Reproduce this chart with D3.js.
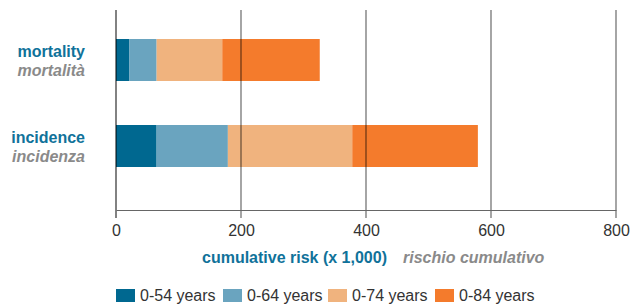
<!DOCTYPE html>
<html><head><meta charset="utf-8">
<script src="https://cdn.jsdelivr.net/npm/d3@7"></script>
<style>body{margin:0;background:#fff}svg{display:block;font-family:"Liberation Sans",Arial,sans-serif}</style>
</head><body>
<svg id="c" width="636" height="307"></svg>
<script>
const categories = ["mortality", "incidence"];
const categoriesIt = ["mortalità", "incidenza"];
const series = ["0-54 years", "0-64 years", "0-74 years", "0-84 years"];
const mortality = [21, 65, 170, 326];
const incidence = [65, 179, 378, 579];
const ticks = [0, 200, 400, 600, 800];
const colors = ["#006890", "#6aa4bf", "#f0b37e", "#f47b2c"];

const values = {mortality, incidence};
const svg = d3.select("#c");
const x = d3.scaleLinear().domain([0, 800]).range([116, 616]);
const y = d3.scalePoint().domain(categories).range([60, 146]);
const barH = 42;

categories.forEach(cat => {
  const vals = values[cat];
  const g = svg.append("g");
  vals.forEach((v, i) => {
    const start = i === 0 ? 0 : vals[i - 1];
    g.append("rect")
      .attr("x", x(start)).attr("y", y(cat) - barH / 2)
      .attr("width", x(v) - x(start)).attr("height", barH)
      .attr("fill", colors[i]);
  });
});

// grid lines
svg.append("g").selectAll("line").data(ticks).join("line")
  .attr("x1", d => x(d)).attr("x2", d => x(d))
  .attr("y1", 10).attr("y2", 218)
  .attr("stroke", d => d === 0 ? "rgba(0,0,0,0.7)" : "rgba(0,0,0,0.5)")
  .attr("stroke-width", 1.4);

// axis
const axis = d3.axisBottom(x).tickValues(ticks).tickSize(0).tickPadding(0).tickFormat(d3.format("d"));
const ax = svg.append("g").attr("transform", "translate(0,210)").call(axis);
ax.select(".domain").attr("stroke", "#666").attr("stroke-width", 1.2);
ax.selectAll("text").attr("font-size", 16).attr("fill", "#333").attr("dy", 0).attr("y", 26)
  .attr("font-family", "'Liberation Sans',Arial,sans-serif");

// category labels
categories.forEach((cat, i) => {
  svg.append("text").attr("x", 85).attr("y", y(cat) - 3.5).attr("text-anchor", "end")
    .attr("font-size", 16).attr("font-weight", "bold").attr("fill", "#10729a").text(cat);
  svg.append("text").attr("x", 85).attr("y", y(cat) + 15.5).attr("text-anchor", "end")
    .attr("font-size", 16).attr("font-weight", "bold").attr("font-style", "italic").attr("fill", "#8a8a8a").text(categoriesIt[i]);
});

// axis title
svg.append("text").attr("x", 202).attr("y", 263).attr("font-size", 16).attr("font-weight", "bold")
  .attr("fill", "#10729a").text("cumulative risk (x 1,000)");
svg.append("text").attr("x", 403).attr("y", 263).attr("font-size", 16).attr("font-weight", "bold")
  .attr("font-style", "italic").attr("fill", "#8a8a8a").text("rischio cumulativo");

// legend
const legendX = [116, 223, 328, 435];
series.forEach((s, i) => {
  svg.append("rect").attr("x", legendX[i]).attr("y", 289).attr("width", 19).attr("height", 13).attr("fill", colors[i]);
  svg.append("text").attr("x", legendX[i] + 24).attr("y", 301).attr("font-size", 16).attr("fill", "#333").text(s);
});
</script>
</body></html>
